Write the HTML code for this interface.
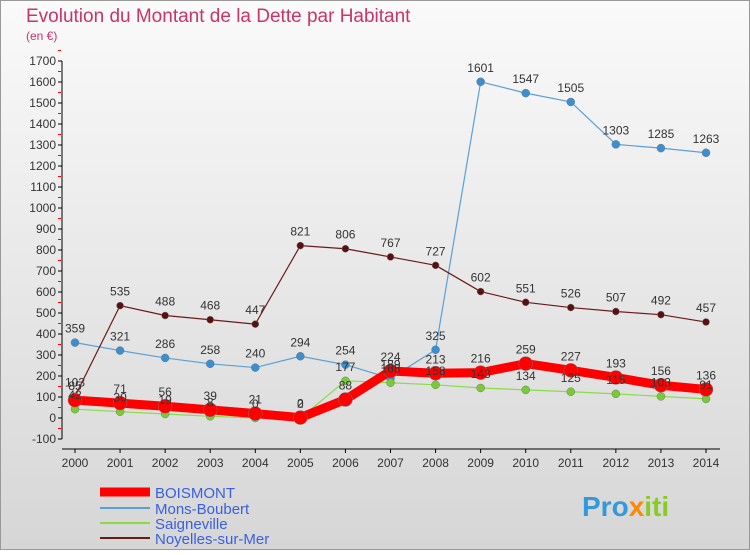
<!DOCTYPE html>
<html><head><meta charset="utf-8"><style>
body{margin:0;width:750px;height:550px;overflow:hidden;font-family:"Liberation Sans",sans-serif}
svg text{font-family:"Liberation Sans",sans-serif}
</style></head><body>
<svg id="c" width="750" height="550">
<defs><linearGradient id="bg" x1="0" y1="0" x2="0" y2="1"><stop offset="0" stop-color="#fafafa"/><stop offset="1" stop-color="#d6d6d6"/></linearGradient></defs>
<rect x="0.5" y="0.5" width="749" height="549" fill="url(#bg)" stroke="#999"/>
<text x="26" y="22" font-size="19" fill="#cc3366">Evolution du Montant de la Dette par Habitant</text>
<text x="26" y="40" font-size="12" fill="#cc3366">(en €)</text>
<g id="axes"></g><g id="series"></g><g id="labels"></g>
<g>
<line x1="100" y1="492" x2="150" y2="492" stroke="#f00" stroke-width="9"/>
<text x="155" y="498" font-size="15" fill="#3a5fdd">BOISMONT</text>
<line x1="100" y1="508" x2="150" y2="508" stroke="#5aa0d6" stroke-width="2"/>
<text x="155" y="514" font-size="15" fill="#3a5fdd">Mons-Boubert</text>
<line x1="100" y1="523" x2="150" y2="523" stroke="#88dd44" stroke-width="2"/>
<text x="155" y="529" font-size="15" fill="#3a5fdd">Saigneville</text>
<line x1="100" y1="538" x2="150" y2="538" stroke="#6b1a1a" stroke-width="2"/>
<text x="155" y="544" font-size="15" fill="#3a5fdd">Noyelles-sur-Mer</text>
</g>
<text x="582" y="516" font-size="28" font-weight="bold" fill="#3399dd">Pro<tspan fill="#ff8800">x</tspan><tspan fill="#88cc22">iti</tspan></text>
</svg>
<script>
const years=[2000,2001,2002,2003,2004,2005,2006,2007,2008,2009,2010,2011,2012,2013,2014];
const boismont=[85,71,56,39,21,2,88,224,213,216,259,227,193,156,136];
const mons=[359,321,286,258,240,294,254,189,325,1601,1547,1505,1303,1285,1263];
const saign=[42,30,19,8,0,0,177,168,158,143,134,125,115,103,91];
const noyel=[103,535,488,468,447,821,806,767,727,602,551,526,507,492,457];
const yTicks=[-100,0,100,200,300,400,500,600,700,800,900,1000,1100,1200,1300,1400,1500,1600,1700];
const NS="http://www.w3.org/2000/svg";
const x=i=>75+i*(706-75)/14;
const y=v=>418-v*0.21;
function mk(t,a,p){const e=document.createElementNS(NS,t);for(const k in a)e.setAttribute(k,a[k]);p.appendChild(e);return e;}
const ax=document.getElementById('axes'),sg=document.getElementById('series'),lg=document.getElementById('labels');
let l=mk('line',{x1:62,y1:y(1700),x2:62,y2:y(-100),stroke:'#000'},ax);


l=mk('line',{x1:62,y1:449,x2:720,y2:449,stroke:'#000'},ax);


yTicks.forEach(v=>{
 mk('line',{x1:58,y1:y(v),x2:62,y2:y(v),stroke:'#000'},ax);
 mk('line',{x1:58,y1:y(v+50),x2:61,y2:y(v+50),stroke:'#f00'},ax);
 const t=mk('text',{x:56,y:y(v)+4,'font-size':12,fill:'#333','text-anchor':'end'},ax);t.textContent=v;
 
 
});
years.forEach((yr,i)=>{
 mk('line',{x1:x(i),y1:449,x2:x(i),y2:453,stroke:'#000'},ax);
 const t=mk('text',{x:x(i),y:467,'font-size':12,fill:'#333','text-anchor':'middle'},ax);t.textContent=yr;
 
 
});
function series(d,col,w,r,name,fill){
 const p=mk('polyline',{points:d.map((v,i)=>x(i)+','+y(v)).join(' '),fill:'none',stroke:col,'stroke-width':w,'stroke-linejoin':'round'},sg);
 
 
 d.forEach((v,i)=>{
  const c=mk('circle',{cx:x(i),cy:y(v),r:r,fill:fill,stroke:'#777','stroke-width':0.5},sg);
  
  
  const t=mk('text',{x:x(i),y:y(v)-10,'font-size':12,fill:'#333','text-anchor':'middle'},lg);t.textContent=v;
  
  
 });
}
series(mons,'#5aa0d6',1.2,4,'mons-boubert','#3a8fd0');
series(saign,'#88dd44',1.2,4,'saigneville','#77cc33');
series(noyel,'#6b1a1a',1.2,3.5,'noyelles','#5a1010');
series(boismont,'#f00',9,7,'boismont','#f00');
</script>
</body></html>
